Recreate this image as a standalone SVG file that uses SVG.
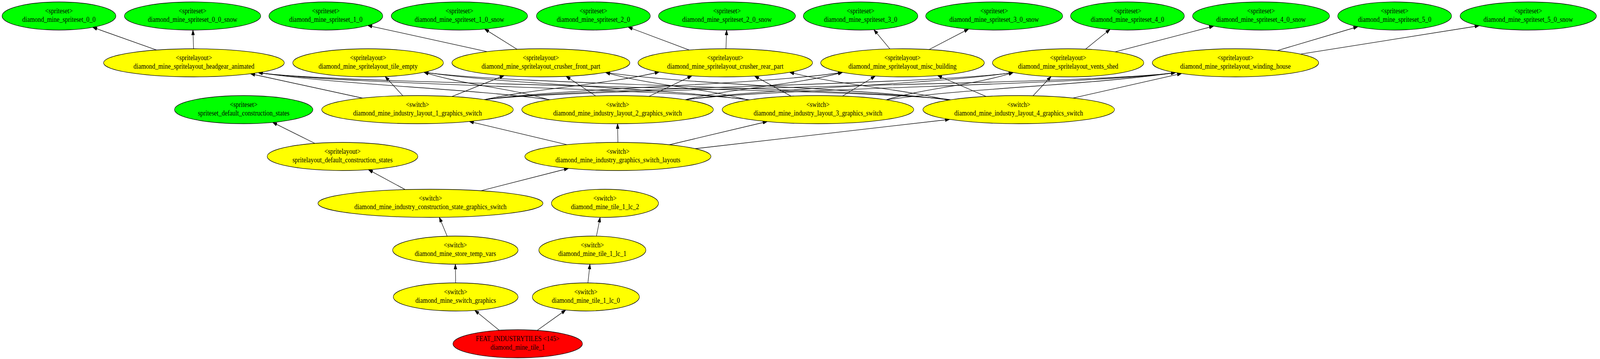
<svg xmlns="http://www.w3.org/2000/svg" width="4691" height="920" viewBox="0 0 4691 920">
<style>
.g ellipse{stroke:#000;stroke-width:1.3}
.green{fill:#00ff00}
.yellow{fill:#ffff00}
.red{fill:#ff0000}
text{font-family:"Liberation Serif","Times New Roman",serif;font-size:18.2px;text-anchor:middle;fill:#000}
#edges path{fill:none;stroke:#000;stroke-width:1.3;marker-end:url(#arr)}
</style>
<defs>
<marker id="arr" markerUnits="userSpaceOnUse" viewBox="0 0 13 9" markerWidth="13" markerHeight="9" refX="13" refY="4.5" orient="auto">
<path d="M0,0 L13,4.5 L0,9 Z" fill="#000" stroke="#000" stroke-width="1"/>
</marker>
</defs>
<rect width="4691" height="920" fill="#fff"/>
<g id="diagram" transform="scale(0.8725,1)">
<g id="edges">
<path d="M459,128.2 L272,70"/>
<path d="M568,125 L566,77"/>
<path d="M1429,132.3 L1079,65.3"/>
<path d="M1517,126.3 L1422,74.4"/>
<path d="M2022,128.2 L1843,69.5"/>
<path d="M2130,125 L2132,77"/>
<path d="M2611,125.4 L2564,76"/>
<path d="M2726,127 L2842,74.4"/>
<path d="M3185,126 L3257,75.3"/>
<path d="M3272,132.8 L3561,67"/>
<path d="M3747,129.8 L3984,68.5"/>
<path d="M3816,138.6 L4340,66"/>
<path d="M1064,251.5 L735,189"/>
<path d="M1182,245.4 L1130,196"/>
<path d="M1326,247.4 L1479,193.8"/>
<path d="M1418,256 C1573,226 1779,217 1934,184.5"/>
<path d="M1421,255.5 C1671,225 2222,218 2472,185.5"/>
<path d="M1424,255 C1674,225 2723,218 2973,185.8"/>
<path d="M1427,255 C1677,225 3199,218 3449,186"/>
<path d="M1615,255.7 C1365,226 1008,218 758,186.2"/>
<path d="M1612,256 C1502,226 1354,217 1244,185.1"/>
<path d="M1748,246 L1661,195.5"/>
<path d="M1904,247 L2030,194.3"/>
<path d="M2010,255.7 C2149,226 2333,218 2472,185.5"/>
<path d="M2013,255.5 C2263,225 2723,218 2973,185.8"/>
<path d="M2016,255.3 C2266,225 3199,218 3449,186"/>
<path d="M2200,255.8 C1950,226 1008,218 758,186.2"/>
<path d="M2197,256 C1947,226 1494,217 1244,185.1"/>
<path d="M2194,256.2 C2069,226 1902,218 1777,185.7"/>
<path d="M2321,246.4 L2214,194.9"/>
<path d="M2472,246.2 L2568,195"/>
<path d="M2600,255.8 C2712,226 2861,218 2973,185.8"/>
<path d="M2603,255.5 C2853,225 3199,218 3449,186"/>
<path d="M2790,255.6 C2540,226 1008,218 758,186.2"/>
<path d="M2787,256 C2537,226 1494,217 1244,185.1"/>
<path d="M2784,256.3 C2534,226 2027,218 1777,185.7"/>
<path d="M2781,256.6 C2642,227 2456,217 2317,185.3"/>
<path d="M2893,247.2 L2751,193.5"/>
<path d="M3031,245.4 L3084,196"/>
<path d="M3148,251.3 L3467,188.4"/>
<path d="M924,367.5 L800,313.7"/>
<path d="M1189,485.9 L1081,434.8"/>
<path d="M1411,488.8 L1668,431.5"/>
<path d="M1664,370.8 L1377,311.3"/>
<path d="M1813,365 L1812,317"/>
<path d="M1964,371 L2251,311.5"/>
<path d="M2040,381 L2786,306"/>
<path d="M1312,605.3 L1289,556.9"/>
<path d="M1750,605.1 L1761,556.9"/>
<path d="M1337,725 L1336,677"/>
<path d="M1725,725.1 L1731,676.9"/>
<path d="M1465,846.5 L1393,795.3"/>
<path d="M1576,846.7 L1660,794.4"/>
</g>
<g id="n_ss_0_0" class="g"><ellipse class="green" cx="173" cy="41" rx="167" ry="36"/><text x="173" y="34.4">&lt;spriteset&gt;</text><text x="173" y="56.2">diamond_mine_spriteset_0_0</text></g>
<g id="n_ss_0_0_snow" class="g"><ellipse class="green" cx="565" cy="41" rx="200" ry="36"/><text x="565" y="34.4">&lt;spriteset&gt;</text><text x="565" y="56.2">diamond_mine_spriteset_0_0_snow</text></g>
<g id="n_ss_1_0" class="g"><ellipse class="green" cx="956" cy="41" rx="167" ry="36"/><text x="956" y="34.4">&lt;spriteset&gt;</text><text x="956" y="56.2">diamond_mine_spriteset_1_0</text></g>
<g id="n_ss_1_0_snow" class="g"><ellipse class="green" cx="1348" cy="41" rx="200" ry="36"/><text x="1348" y="34.4">&lt;spriteset&gt;</text><text x="1348" y="56.2">diamond_mine_spriteset_1_0_snow</text></g>
<g id="n_ss_2_0" class="g"><ellipse class="green" cx="1741" cy="41" rx="167" ry="36"/><text x="1741" y="34.4">&lt;spriteset&gt;</text><text x="1741" y="56.2">diamond_mine_spriteset_2_0</text></g>
<g id="n_ss_2_0_snow" class="g"><ellipse class="green" cx="2133" cy="41" rx="201" ry="36"/><text x="2133" y="34.4">&lt;spriteset&gt;</text><text x="2133" y="56.2">diamond_mine_spriteset_2_0_snow</text></g>
<g id="n_ss_3_0" class="g"><ellipse class="green" cx="2525" cy="41" rx="168" ry="36"/><text x="2525" y="34.4">&lt;spriteset&gt;</text><text x="2525" y="56.2">diamond_mine_spriteset_3_0</text></g>
<g id="n_ss_3_0_snow" class="g"><ellipse class="green" cx="2917" cy="41" rx="201" ry="36"/><text x="2917" y="34.4">&lt;spriteset&gt;</text><text x="2917" y="56.2">diamond_mine_spriteset_3_0_snow</text></g>
<g id="n_ss_4_0" class="g"><ellipse class="green" cx="3308" cy="41" rx="167" ry="36"/><text x="3308" y="34.4">&lt;spriteset&gt;</text><text x="3308" y="56.2">diamond_mine_spriteset_4_0</text></g>
<g id="n_ss_4_0_snow" class="g"><ellipse class="green" cx="3700" cy="41" rx="201" ry="36"/><text x="3700" y="34.4">&lt;spriteset&gt;</text><text x="3700" y="56.2">diamond_mine_spriteset_4_0_snow</text></g>
<g id="n_ss_5_0" class="g"><ellipse class="green" cx="4092" cy="41" rx="167" ry="36"/><text x="4092" y="34.4">&lt;spriteset&gt;</text><text x="4092" y="56.2">diamond_mine_spriteset_5_0</text></g>
<g id="n_ss_5_0_snow" class="g"><ellipse class="green" cx="4484" cy="41" rx="200" ry="36"/><text x="4484" y="34.4">&lt;spriteset&gt;</text><text x="4484" y="56.2">diamond_mine_spriteset_5_0_snow</text></g>
<g id="n_sl_headgear" class="g"><ellipse class="yellow" cx="569" cy="161" rx="265" ry="36"/><text x="569" y="154.4">&lt;spritelayout&gt;</text><text x="569" y="176.2">diamond_mine_spritelayout_headgear_animated</text></g>
<g id="n_sl_tile_empty" class="g"><ellipse class="yellow" cx="1080" cy="161" rx="221" ry="36"/><text x="1080" y="154.4">&lt;spritelayout&gt;</text><text x="1080" y="176.2">diamond_mine_spritelayout_tile_empty</text></g>
<g id="n_sl_crusher_front" class="g"><ellipse class="yellow" cx="1587" cy="161" rx="261" ry="36"/><text x="1587" y="154.4">&lt;spritelayout&gt;</text><text x="1587" y="176.2">diamond_mine_spritelayout_crusher_front_part</text></g>
<g id="n_sl_crusher_rear" class="g"><ellipse class="yellow" cx="2128" cy="161" rx="256" ry="36"/><text x="2128" y="154.4">&lt;spritelayout&gt;</text><text x="2128" y="176.2">diamond_mine_spritelayout_crusher_rear_part</text></g>
<g id="n_sl_misc" class="g"><ellipse class="yellow" cx="2648" cy="161" rx="240" ry="36"/><text x="2648" y="154.4">&lt;spritelayout&gt;</text><text x="2648" y="176.2">diamond_mine_spritelayout_misc_building</text></g>
<g id="n_sl_vents" class="g"><ellipse class="yellow" cx="3134" cy="161" rx="222" ry="36"/><text x="3134" y="154.4">&lt;spritelayout&gt;</text><text x="3134" y="176.2">diamond_mine_spritelayout_vents_shed</text></g>
<g id="n_sl_winding" class="g"><ellipse class="yellow" cx="3625" cy="161" rx="244" ry="36"/><text x="3625" y="154.4">&lt;spritelayout&gt;</text><text x="3625" y="176.2">diamond_mine_spritelayout_winding_house</text></g>
<g id="n_ss_default_cs" class="g"><ellipse class="green" cx="715" cy="281" rx="203" ry="36"/><text x="715" y="274.4">&lt;spriteset&gt;</text><text x="715" y="296.2">spriteset_default_construction_states</text></g>
<g id="n_layout_1" class="g"><ellipse class="yellow" cx="1225" cy="281" rx="281" ry="36"/><text x="1225" y="274.4">&lt;switch&gt;</text><text x="1225" y="296.2">diamond_mine_industry_layout_1_graphics_switch</text></g>
<g id="n_layout_2" class="g"><ellipse class="yellow" cx="1812" cy="281" rx="281" ry="36"/><text x="1812" y="274.4">&lt;switch&gt;</text><text x="1812" y="296.2">diamond_mine_industry_layout_2_graphics_switch</text></g>
<g id="n_layout_3" class="g"><ellipse class="yellow" cx="2400" cy="281" rx="281" ry="36"/><text x="2400" y="274.4">&lt;switch&gt;</text><text x="2400" y="296.2">diamond_mine_industry_layout_3_graphics_switch</text></g>
<g id="n_layout_4" class="g"><ellipse class="yellow" cx="2989" cy="281" rx="281" ry="36"/><text x="2989" y="274.4">&lt;switch&gt;</text><text x="2989" y="296.2">diamond_mine_industry_layout_4_graphics_switch</text></g>
<g id="n_sl_default_cs" class="g"><ellipse class="yellow" cx="1005" cy="401" rx="221" ry="36"/><text x="1005" y="394.4">&lt;spritelayout&gt;</text><text x="1005" y="416.2">spritelayout_default_construction_states</text></g>
<g id="n_gsl" class="g"><ellipse class="yellow" cx="1813" cy="401" rx="273" ry="36"/><text x="1813" y="394.4">&lt;switch&gt;</text><text x="1813" y="416.2">diamond_mine_industry_graphics_switch_layouts</text></g>
<g id="n_construction" class="g"><ellipse class="yellow" cx="1263" cy="521" rx="330" ry="36"/><text x="1263" y="514.4">&lt;switch&gt;</text><text x="1263" y="536.2">diamond_mine_industry_construction_state_graphics_switch</text></g>
<g id="n_tile_1_lc_2" class="g"><ellipse class="yellow" cx="1775" cy="521" rx="157" ry="36"/><text x="1775" y="514.4">&lt;switch&gt;</text><text x="1775" y="536.2">diamond_mine_tile_1_lc_2</text></g>
<g id="n_store_temp_vars" class="g"><ellipse class="yellow" cx="1336" cy="641" rx="184" ry="36"/><text x="1336" y="634.4">&lt;switch&gt;</text><text x="1336" y="656.2">diamond_mine_store_temp_vars</text></g>
<g id="n_tile_1_lc_1" class="g"><ellipse class="yellow" cx="1738" cy="641" rx="157" ry="36"/><text x="1738" y="634.4">&lt;switch&gt;</text><text x="1738" y="656.2">diamond_mine_tile_1_lc_1</text></g>
<g id="n_switch_graphics" class="g"><ellipse class="yellow" cx="1337" cy="761" rx="183" ry="36"/><text x="1337" y="754.4">&lt;switch&gt;</text><text x="1337" y="776.2">diamond_mine_switch_graphics</text></g>
<g id="n_tile_1_lc_0" class="g"><ellipse class="yellow" cx="1719" cy="761" rx="157" ry="36"/><text x="1719" y="754.4">&lt;switch&gt;</text><text x="1719" y="776.2">diamond_mine_tile_1_lc_0</text></g>
<g id="n_feat" class="g"><ellipse class="red" cx="1519" cy="881" rx="190" ry="36"/><text x="1519" y="874.4">FEAT_INDUSTRYTILES &lt;145&gt;</text><text x="1519" y="896.2">diamond_mine_tile_1</text></g>
</g>
</svg>
